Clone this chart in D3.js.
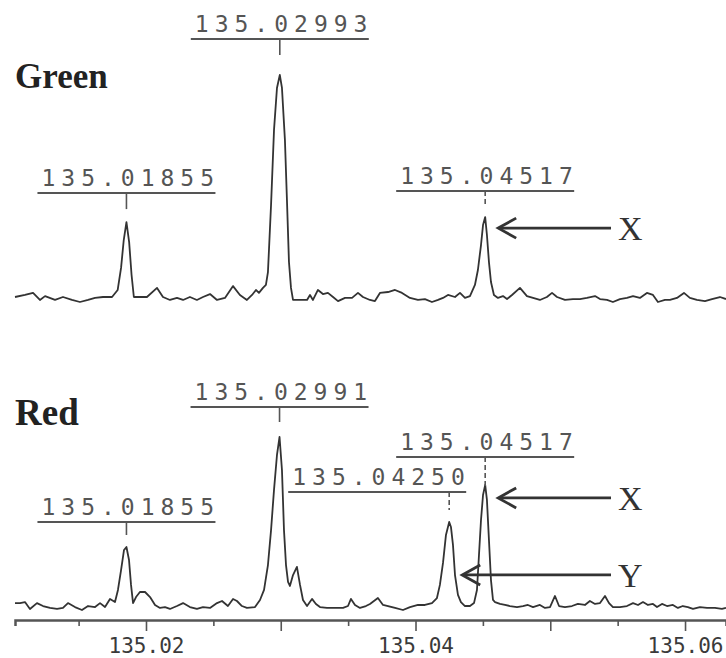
<!DOCTYPE html>
<html><head><meta charset="utf-8">
<script src="https://cdn.jsdelivr.net/npm/d3@7"></script>
<style>body{margin:0;background:#fff}svg{display:block}</style>
</head><body>
<svg id="chart" width="726" height="658"></svg>
<script>
// ---------- DATA ----------
const panelNames = ["Green", "Red"];

// [m/z, relative intensity %]
const greenTrace = [
 [135.01028,2.2],[135.01102,3.1],[135.01162,4.0],[135.01213,0.9],[135.01251,2.6],[135.01325,0.9],
 [135.01384,2.2],[135.01451,0.9],[135.01510,0.0],[135.01570,0.9],[135.01622,1.8],[135.01681,2.2],
 [135.01748,2.2],[135.01790,5.3],[135.01815,15.0],[135.01835,27.3],[135.01855,35.2],[135.01875,26.4],
 [135.01893,11.9],[135.01910,2.2],[135.01955,2.2],[135.02007,2.2],[135.02082,6.2],[135.02126,2.2],
 [135.02178,0.9],[135.02230,1.8],[135.02275,0.9],[135.02326,2.2],[135.02378,0.9],[135.02423,2.2],
 [135.02475,3.5],[135.02527,0.9],[135.02586,1.8],[135.02646,7.0],[135.02697,3.1],[135.02749,0.9],
 [135.02787,3.1],[135.02816,5.3],[135.02838,4.0],[135.02868,6.2],[135.02890,7.5],[135.02905,13.2],
 [135.02928,42.7],[135.02950,75.8],[135.02972,94.3],[135.02993,100],[135.03009,94.3],[135.03031,71.4],
 [135.03046,44.9],[135.03061,17.6],[135.03076,6.2],[135.03091,0.9],[135.03143,0.9],[135.03195,0.9],
 [135.03217,3.1],[135.03239,0.9],[135.03276,5.3],[135.03313,3.5],[135.03350,4.0],[135.03388,2.2],
 [135.03425,0.4],[135.03477,1.8],[135.03529,1.8],[135.03573,4.0],[135.03610,2.2],[135.03662,0.9],
 [135.03699,0.4],[135.03736,4.0],[135.03796,4.4],[135.03848,5.3],[135.03900,4.0],[135.03959,1.8],
 [135.04018,0.9],[135.04070,1.3],[135.04122,0.0],[135.04167,0.9],[135.04204,1.8],[135.04241,3.1],
 [135.04293,2.2],[135.04330,4.0],[135.04367,1.8],[135.04404,2.6],[135.04441,7.5],[135.04463,14.1],
 [135.04486,25.1],[135.04501,33.9],[135.04517,37.4],[135.04530,29.5],[135.04545,17.6],[135.04560,8.8],
 [135.04582,3.1],[135.04612,1.8],[135.04649,2.6],[135.04679,1.3],[135.04716,3.1],[135.04775,6.2],
 [135.04827,2.6],[135.04872,1.8],[135.04923,0.9],[135.04975,2.2],[135.05013,4.0],[135.05050,2.2],
 [135.05109,0.9],[135.05168,1.3],[135.05220,1.3],[135.05272,1.8],[135.05332,2.6],[135.05369,1.3],
 [135.05421,0.9],[135.05465,0.0],[135.05517,1.3],[135.05569,1.8],[135.05614,2.6],[135.05665,1.8],
 [135.05717,4.0],[135.05762,3.1],[135.05799,0.0],[135.05851,0.9],[135.05888,0.9],[135.05940,1.8],
 [135.05992,4.0],[135.06036,1.8],[135.06088,0.9],[135.06148,0.4],[135.06200,1.3],[135.06259,2.2],
 [135.06304,1.3]
];

const redTrace = [
 [135.01028,4.0],[135.01065,4.0],[135.01102,4.6],[135.01139,0.6],[135.01191,4.0],[135.01236,2.3],
 [135.01288,1.2],[135.01340,0.6],[135.01384,1.2],[135.01421,4.0],[135.01473,1.7],[135.01525,0.0],
 [135.01570,2.3],[135.01622,1.7],[135.01659,4.0],[135.01696,1.7],[135.01733,6.4],[135.01770,4.6],
 [135.01792,11.6],[135.01815,23.1],[135.01837,34.7],[135.01855,36.4],[135.01874,28.9],[135.01889,14.5],
 [135.01904,4.0],[135.01926,7.5],[135.01955,10.4],[135.01993,10.4],[135.02030,7.5],[135.02067,2.9],
 [135.02104,1.2],[135.02141,1.7],[135.02178,0.6],[135.02230,2.3],[135.02275,4.0],[135.02326,1.7],
 [135.02378,0.6],[135.02423,1.7],[135.02475,1.2],[135.02527,4.0],[135.02564,5.2],[135.02608,2.3],
 [135.02646,6.4],[135.02675,5.2],[135.02712,2.3],[135.02749,1.2],[135.02809,1.7],[135.02846,5.8],
 [135.02876,11.6],[135.02905,26.0],[135.02928,46.2],[135.02950,69.4],[135.02972,89.6],[135.02991,100],
 [135.03009,80.9],[135.03024,46.2],[135.03039,26.0],[135.03054,16.2],[135.03068,13.9],[135.03091,20.2],
 [135.03120,24.9],[135.03143,14.5],[135.03165,5.8],[135.03195,2.3],[135.03232,6.4],[135.03261,3.5],
 [135.03291,1.7],[135.03343,1.2],[135.03402,1.2],[135.03462,1.2],[135.03499,2.3],[135.03521,6.4],
 [135.03551,2.9],[135.03588,1.2],[135.03632,2.3],[135.03662,3.5],[135.03721,6.9],[135.03759,2.9],
 [135.03796,2.3],[135.03848,1.2],[135.03907,0.0],[135.03959,1.7],[135.04018,2.9],[135.04070,2.9],
 [135.04122,4.0],[135.04159,6.9],[135.04181,14.5],[135.04204,27.2],[135.04226,43.4],[135.04250,50.9],
 [135.04263,48.0],[135.04278,37.6],[135.04293,20.2],[135.04315,8.7],[135.04337,4.6],[135.04367,2.3],
 [135.04404,2.3],[135.04434,4.0],[135.04456,11.6],[135.04471,31.8],[135.04486,52.0],[135.04501,66.5],
 [135.04517,72.3],[135.04530,63.6],[135.04545,40.5],[135.04560,17.3],[135.04575,5.8],[135.04590,4.6],
 [135.04627,3.5],[135.04664,2.9],[135.04701,2.3],[135.04753,1.7],[135.04797,2.3],[135.04834,2.9],
 [135.04872,1.7],[135.04923,2.9],[135.04961,1.2],[135.04998,1.7],[135.05035,8.1],[135.05065,2.3],
 [135.05109,1.7],[135.05161,2.3],[135.05205,3.5],[135.05257,2.9],[135.05294,5.2],[135.05332,3.5],
 [135.05369,4.0],[135.05406,8.1],[135.05436,4.0],[135.05465,1.7],[135.05517,1.7],[135.05569,2.3],
 [135.05614,4.0],[135.05651,2.9],[135.05688,4.6],[135.05725,2.9],[135.05762,3.5],[135.05792,1.7],
 [135.05829,3.5],[135.05866,2.3],[135.05910,2.9],[135.05947,1.2],[135.05984,2.3],[135.06021,1.7],
 [135.06059,0.6],[135.06111,1.7],[135.06163,1.2],[135.06222,1.2],[135.06274,0.6],[135.06304,1.2]
];

const peakLabels = [
 {panel:"Green", mz:135.01855, intensity:35.2, text:"135.01855"},
 {panel:"Green", mz:135.02993, intensity:100,  text:"135.02993"},
 {panel:"Green", mz:135.04517, intensity:37.4, text:"135.04517"},
 {panel:"Red",   mz:135.01855, intensity:36.4, text:"135.01855"},
 {panel:"Red",   mz:135.02991, intensity:100,  text:"135.02991"},
 {panel:"Red",   mz:135.04250, intensity:50.9, text:"135.04250"},
 {panel:"Red",   mz:135.04517, intensity:72.3, text:"135.04517"}
];

const markers = [
 {panel:"Green", mz:135.04517, intensity:37.4, text:"X"},
 {panel:"Red",   mz:135.04517, intensity:72.3, text:"X"},
 {panel:"Red",   mz:135.04250, intensity:50.9, text:"Y"}
];

const majorTicks = [135.02, 135.04, 135.06];
const minorTicks = [135.015, 135.025, 135.03, 135.035, 135.045, 135.05, 135.055];

// ---------- LAYOUT ----------
const labelLayout = [ // lift above peak top, horizontal shift of bar, tick length, dashed
 {lift:29, shift:0, tick:16, dash:false},
 {lift:36, shift:0, tick:16, dash:false},
 {lift:26, shift:0, tick:14, dash:true},
 {lift:25, shift:0, tick:13, dash:false},
 {lift:30, shift:0, tick:15, dash:false},
 {lift:30, shift:-72, tick:18, dash:true},
 {lift:28, shift:0, tick:30, dash:true}
];
const markerDrop = [11, 13, 53];

const svg = d3.select("#chart");
const ink = "#333";

const x = d3.scaleLinear().domain([135.01028, 135.06304]).range([15, 726]);
const yScales = {
  Green: d3.scaleLinear().domain([0, 100]).range([302, 75]),
  Red:   d3.scaleLinear().domain([0, 100]).range([610, 437])
};
const traces = {Green: greenTrace, Red: redTrace};

// traces
panelNames.forEach(p => {
  const line = d3.line().x(d => x(d[0])).y(d => yScales[p](d[1]));
  svg.append("path").datum(traces[p])
    .attr("d", line).attr("fill", "none")
    .attr("stroke", ink).attr("stroke-width", 1.8).attr("stroke-linejoin", "round");
});

// panel titles
svg.append("text").attr("x", 15).attr("y", 88).text("Green")
  .attr("font-family", "Liberation Serif").attr("font-weight", "bold")
  .attr("font-size", 35).attr("fill", "#222");
svg.append("text").attr("x", 15).attr("y", 425).text("Red")
  .attr("font-family", "Liberation Serif").attr("font-weight", "bold")
  .attr("font-size", 37).attr("fill", "#222");

// peak labels
peakLabels.forEach((d, i) => {
  const L = labelLayout[i];
  const cx = x(d.mz);
  const top = yScales[d.panel](d.intensity);
  const uy = top - L.lift;
  const bx = cx + L.shift;
  const g = svg.append("g");
  g.append("line").attr("x1", bx - 89).attr("x2", bx + 89).attr("y1", uy).attr("y2", uy)
    .attr("stroke", "#555").attr("stroke-width", 2);
  g.append("line").attr("x1", cx).attr("x2", cx).attr("y1", uy).attr("y2", uy + L.tick)
    .attr("stroke", "#555").attr("stroke-width", 1.6)
    .attr("stroke-dasharray", L.dash ? "5,3" : null);
  g.append("text").attr("x", bx - 85).attr("y", uy - 7).text(d.text)
    .attr("font-family", "DejaVu Sans Mono").attr("font-size", 23)
    .attr("letter-spacing", "6px").attr("fill", "#555");
});

// arrows + letters
markers.forEach((d, i) => {
  const cx = x(d.mz);
  const ay = yScales[d.panel](d.intensity) + markerDrop[i];
  const tip = cx + 13;
  const g = svg.append("g").attr("stroke", ink).attr("fill", "none").attr("stroke-width", 2.8);
  g.append("line").attr("x1", tip + 2).attr("x2", 611).attr("y1", ay).attr("y2", ay);
  g.append("path").attr("d", `M${tip + 18},${ay - 10} L${tip},${ay} L${tip + 18},${ay + 10}`);
  svg.append("text").attr("x", 618).attr("y", ay + 12).text(d.text)
    .attr("font-family", "Liberation Serif").attr("font-size", 34).attr("fill", ink);
});

// axis
const allTicks = majorTicks.concat(minorTicks).sort((a, b) => a - b);
const axis = d3.axisBottom(x).tickValues(allTicks)
  .tickFormat(v => majorTicks.includes(v) ? d3.format(".2f")(v) : "")
  .tickSizeOuter(0).tickSize(6);
const ag = svg.append("g").attr("transform", "translate(0,620)").call(axis);
ag.select(".domain").attr("stroke", "#555").attr("stroke-width", 2.5);
ag.selectAll(".tick line")
  .attr("stroke", "#555").attr("stroke-width", 1.6)
  .attr("y2", v => (Math.abs(Math.round(v * 100) - v * 100) < 1e-6) ? 11 : 6);
ag.selectAll(".tick text")
  .attr("font-family", "DejaVu Sans Mono").attr("font-size", 21)
  .attr("fill", "#3a3a3a").attr("y", 33).attr("dy", 0);
</script>
</body></html>
